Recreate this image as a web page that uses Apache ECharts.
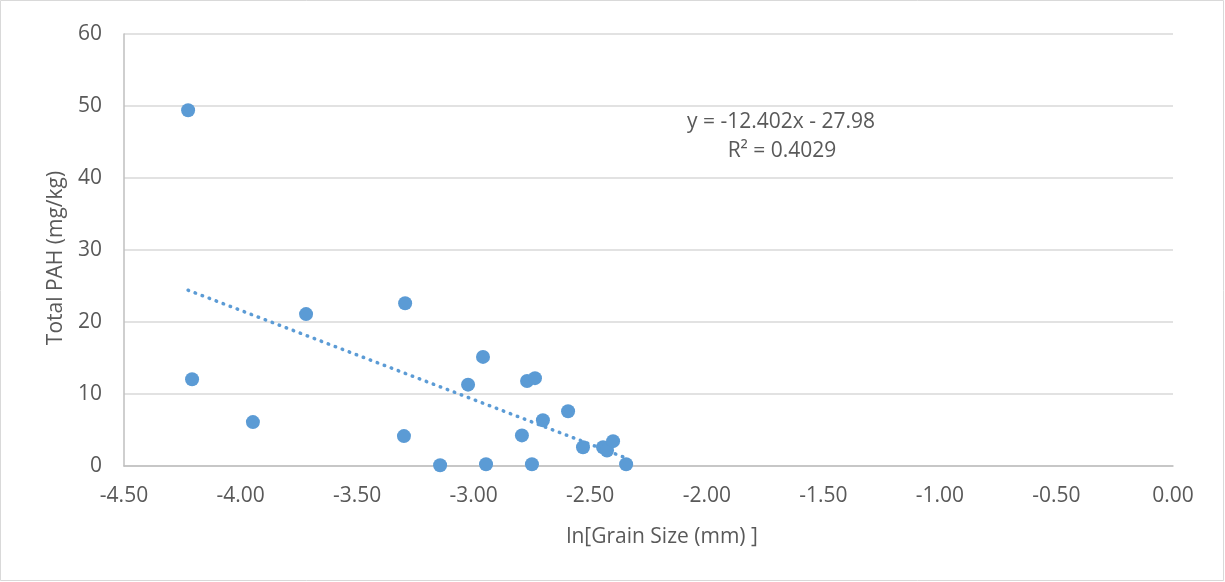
<!DOCTYPE html>
<html>
<head>
<meta charset="utf-8">
<script src="https://cdn.jsdelivr.net/npm/echarts@6/dist/echarts.min.js"></script>
<style>html,body{margin:0;padding:0;background:#fff;}#c{width:1225px;height:582px;}</style>
</head>
<body>
<div id="c"></div>
<script>
const xValues = [-4.225,-4.208,-3.947,-3.719,-3.294,-3.299,-3.144,-2.960,-3.024,-2.947,-2.793,-2.771,-2.737,-2.750,-2.703,-2.595,-2.531,-2.445,-2.428,-2.402,-2.346];
const yValues = [49.4,12.05,6.1,21.1,22.6,4.15,0.1,15.15,11.3,0.25,4.25,11.8,12.2,0.25,6.35,7.6,2.6,2.6,2.15,3.45,0.25];
const trendSlope = -12.402;
const trendIntercept = -27.98;
const equationLines = ["y = -12.402x - 27.98", "R² = 0.4029"];
const xAxisName = "ln[Grain Size (mm) ]";
const yAxisName = "Total PAH (mg/kg)";

const points = xValues.map((x,i)=>[x,yValues[i]]);
const xMin = Math.min(...xValues), xMax = Math.max(...xValues);
const trend = [[xMin, trendSlope*xMin+trendIntercept],[xMax, trendSlope*xMax+trendIntercept]];
const font = "Open Sans, Liberation Sans, sans-serif";
const txt = '#595959';
const chart = echarts.init(document.getElementById('c'));
chart.setOption({
  animation:false,
  backgroundColor:'#fff',
  grid:{left:124,right:52,top:34,bottom:116},
  xAxis:{type:'value',min:-4.5,max:0,interval:0.5,
    axisLine:{onZero:false,lineStyle:{color:'#bfbfbf',width:1.5}},
    axisTick:{show:false},
    splitLine:{show:false},
    axisLabel:{color:txt,fontSize:21,fontFamily:font,margin:20,formatter:v=>v.toFixed(2)}},
  yAxis:{type:'value',min:0,max:60,interval:10,
    axisLine:{show:true,onZero:false,lineStyle:{color:'#bfbfbf',width:1.5}},
    axisTick:{show:false},
    splitLine:{lineStyle:{color:'#d9d9d9',width:1.5}},
    axisLabel:{color:txt,fontSize:21,fontFamily:font,margin:22}},
  graphic:[
    {type:'rect',shape:{x:0.5,y:0.5,width:1223,height:580},style:{fill:'none',stroke:'#d9d9d9',lineWidth:1}},
    {type:'text',x:781,y:122,style:{text:equationLines[0],fill:txt,font:'21px '+font,textAlign:'center',textVerticalAlign:'middle'}},
    {type:'text',x:782,y:151,style:{text:equationLines[1],fill:txt,font:'21px '+font,textAlign:'center',textVerticalAlign:'middle'}},
    {type:'text',x:662,y:537,style:{text:xAxisName,fill:txt,font:'21px '+font,textAlign:'center',textVerticalAlign:'middle'}},
    {type:'text',x:56,y:258,rotation:Math.PI/2,style:{text:yAxisName,fill:txt,font:'21px '+font,textAlign:'center',textVerticalAlign:'middle'}}
  ],
  series:[
    {type:'scatter',data:points,symbolSize:14,itemStyle:{color:'#5b9bd5',opacity:1},z:3},
    {type:'line',data:trend,symbol:'none',lineStyle:{color:'#5b9bd5',width:3.5,type:[0.5,7],cap:'round'},z:2}
  ]
});
</script>
</body>
</html>
